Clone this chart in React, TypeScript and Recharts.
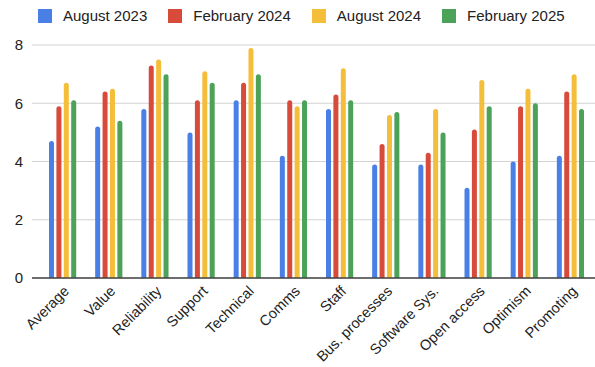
import { BarChart, Bar, XAxis, YAxis, CartesianGrid } from "recharts";

const FONT = "'Liberation Sans', Arial, Helvetica, sans-serif";
const TEXT = "#222222";

const categories = [
  "Average",
  "Value",
  "Reliability",
  "Support",
  "Technical",
  "Comms",
  "Staff",
  "Bus. processes",
  "Software Sys.",
  "Open access",
  "Optimism",
  "Promoting",
];

const aug2023 = [4.7, 5.2, 5.8, 5.0, 6.1, 4.2, 5.8, 3.9, 3.9, 3.1, 4.0, 4.2];
const feb2024 = [5.9, 6.4, 7.3, 6.1, 6.7, 6.1, 6.3, 4.6, 4.3, 5.1, 5.9, 6.4];
const aug2024 = [6.7, 6.5, 7.5, 7.1, 7.9, 5.9, 7.2, 5.6, 5.8, 6.8, 6.5, 7.0];
const feb2025 = [6.1, 5.4, 7.0, 6.7, 7.0, 6.1, 6.1, 5.7, 5.0, 5.9, 6.0, 5.8];

const yTicks = [0, 2, 4, 6, 8];

const series = [
  { key: "aug2023", name: "August 2023", color: "#4a80e6", values: aug2023 },
  { key: "feb2024", name: "February 2024", color: "#d84a3a", values: feb2024 },
  { key: "aug2024", name: "August 2024", color: "#f4be3a", values: aug2024 },
  { key: "feb2025", name: "February 2025", color: "#4ba258", values: feb2025 },
];

const data = categories.map((label, i) => {
  const row: Record<string, string | number> = { label };
  series.forEach((s) => {
    row[s.key] = s.values[i];
  });
  return row;
});

// rotated category label, anchored so the top-right corner sits under the tick
function AngledTick({ x, y, payload }: any) {
  return (
    <g transform={`translate(${x + 7},${y + 14})`}>
      <text
        textAnchor="end"
        transform="rotate(-45)"
        fill={TEXT}
        fontSize={14.6}
        fontFamily={FONT}
      >
        {payload.value}
      </text>
    </g>
  );
}

function LegendRow() {
  return (
    <div
      style={{
        position: "absolute",
        top: 7,
        left: 38,
        display: "flex",
        fontFamily: FONT,
        fontSize: 15,
        color: TEXT,
        lineHeight: "18px",
        whiteSpace: "nowrap",
      }}
    >
      {series.map((s, i) => (
        <div
          key={s.key}
          style={{
            display: "flex",
            alignItems: "center",
            marginLeft: i === 0 ? 0 : 21,
          }}
        >
          <span
            style={{
              display: "inline-block",
              width: 14,
              height: 14,
              background: s.color,
              marginRight: 11,
            }}
          />
          <span>{s.name}</span>
        </div>
      ))}
    </div>
  );
}

export default function App() {
  return (
    <div
      style={{
        position: "absolute",
        left: 0,
        top: 0,
        width: 595,
        height: 367,
        background: "#ffffff",
      }}
    >
      <LegendRow />
      <BarChart
        width={595}
        height={367}
        data={data}
        margin={{ top: 45, right: 0, left: 0, bottom: 0 }}
        barSize={5}
        barGap={2.4}
      >
        <CartesianGrid stroke="#d2d2d2" vertical={false} />
        <XAxis
          dataKey="label"
          interval={0}
          height={89}
          padding={{ left: 8, right: 1 }}
          tickLine={false}
          tickSize={0}
          tickMargin={0}
          axisLine={{ stroke: "#444444", strokeWidth: 1.5 }}
          tick={<AngledTick />}
        />
        <YAxis
          width={32}
          domain={[0, 8]}
          ticks={yTicks}
          axisLine={false}
          tickLine={false}
          tickSize={0}
          tickMargin={9}
          tick={{ fill: TEXT, fontSize: 15, fontFamily: FONT }}
        />
        {series.map((s) => (
          <Bar
            key={s.key}
            dataKey={s.key}
            name={s.name}
            fill={s.color}
            radius={[2.5, 2.5, 0, 0]}
            isAnimationActive={false}
          />
        ))}
      </BarChart>
    </div>
  );
}
